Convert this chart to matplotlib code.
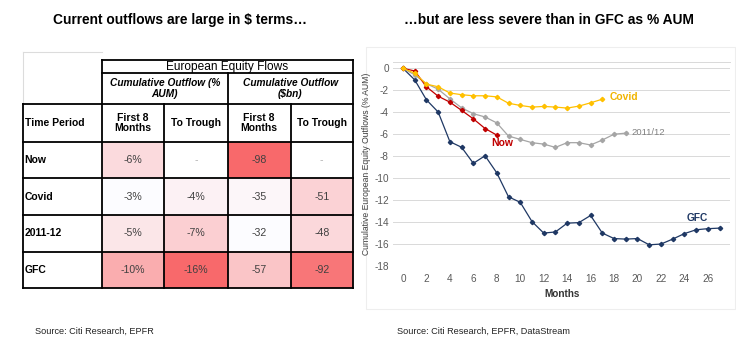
import numpy as np
import matplotlib.pyplot as plt
from matplotlib.patches import Rectangle
from matplotlib.colors import LinearSegmentedColormap

plt.rcParams['font.family'] = ['Liberation Sans', 'DejaVu Sans']
plt.rcParams['axes.unicode_minus'] = False

# ---- table data (European equity flows) ----
periods = ["Now", "Covid", "2011-12", "GFC"]
aum_first8 = [-6, -3, -5, -10]
aum_trough = [None, -4, -7, -16]
bn_first8 = [-98, -35, -32, -57]
bn_trough = [None, -51, -48, -92]

# ---- line chart data (cumulative outflow, % AUM) ----
now = [0, -0.24, -1.68, -2.54, -3.08, -3.83, -4.6, -5.48, -6.08]
covid = [0, -0.45, -1.44, -1.68, -2.25, -2.4, -2.5, -2.5, -2.6, -3.18,
         -3.38, -3.53, -3.47, -3.53, -3.62, -3.44, -3.14, -2.81]
euro = [0, -0.6, -1.4, -1.9, -2.78, -3.6, -4.13, -4.43, -4.97, -6.17,
        -6.47, -6.77, -6.9, -7.2, -6.77, -6.77, -6.98, -6.53, -6.0, -5.9]
gfc = [0, -1.05, -2.87, -3.98, -6.68, -7.19, -8.65, -7.96, -9.52, -11.7,
       -12.2, -13.95, -15.0, -14.9, -14.1, -14.05, -13.4, -15.0, -15.5, -15.55,
       -15.5, -16.07, -16.0, -15.55, -15.05, -14.7, -14.6, -14.55]

fig = plt.figure(figsize=(7.36, 3.48), dpi=100)

# overlay in pixel coordinates for the table and the texts
pa = fig.add_axes([0, 0, 1, 1])
pa.set_xlim(0, 736)
pa.set_ylim(348, 0)
pa.axis('off')

pa.text(180, 20, "Current outflows are large in $ terms\u2026", ha='center', va='center',
        fontsize=9.9, fontweight='bold')
pa.text(549, 20, "\u2026but are less severe than in GFC as % AUM", ha='center', va='center',
        fontsize=9.9, fontweight='bold')
pa.text(35, 331, "Source: Citi Research, EPFR", ha='left', va='center', fontsize=6.6, color='#222222')
pa.text(397, 331, "Source: Citi Research, EPFR, DataStream", ha='left', va='center', fontsize=6.6,
        color='#222222')

# faint box around the right chart
pa.add_patch(Rectangle((366, 47), 369, 262, fill=False, ec='#eeeeee', lw=0.8))

# table
col_x = [22.7, 101.7, 164.3, 227.7, 290.7, 352.7]
row_y = [60, 72.7, 104, 141.7, 178.3, 215, 251.7, 288.3]
cmap = LinearSegmentedColormap.from_list('wr', ['#FCFCFF', '#F8696B'])

def shade(vals_a, vals_b):
    allv = [v for v in vals_a + vals_b if v is not None]
    hi, lo = max(allv), min(allv)
    return lambda v: 'white' if v is None else cmap((hi - v) / (hi - lo))

aum_col = shade(aum_first8, aum_trough)
bn_col = shade(bn_first8, bn_trough)

columns = [(aum_first8, aum_col, '%'), (aum_trough, aum_col, '%'),
           (bn_first8, bn_col, ''), (bn_trough, bn_col, '')]
for r, name in enumerate(periods):
    y0, y1 = row_y[3 + r], row_y[4 + r]
    pa.text(col_x[0] + 2, (y0 + y1) / 2, name, ha='left', va='center', fontsize=7.5, fontweight='bold')
    for c, (vals, colf, suf) in enumerate(columns):
        v = vals[r]
        x0, x1 = col_x[1 + c], col_x[2 + c]
        pa.add_patch(Rectangle((x0, y0), x1 - x0, y1 - y0, fc=colf(v), ec='none'))
        txt = '-' if v is None else f"{v}{suf}"
        pa.text((x0 + x1) / 2, (y0 + y1) / 2, txt, ha='center', va='center', fontsize=7.6,
                color='#b0b0b0' if v is None else '#404040')

# header texts
pa.text((col_x[1] + col_x[5]) / 2, (row_y[0] + row_y[1]) / 2 + 0.5, "European Equity Flows",
        ha='center', va='center', fontsize=8.6)
pa.text((col_x[1] + col_x[3]) / 2, (row_y[1] + row_y[2]) / 2, "Cumulative Outflow (%\nAUM)",
        ha='center', va='center', fontsize=7.3, fontweight='bold', fontstyle='italic', linespacing=1.1)
pa.text((col_x[3] + col_x[5]) / 2, (row_y[1] + row_y[2]) / 2, "Cumulative Outflow\n($bn)",
        ha='center', va='center', fontsize=7.3, fontweight='bold', fontstyle='italic', linespacing=1.1)
pa.text(col_x[0] + 2, (row_y[2] + row_y[3]) / 2, "Time Period", ha='left', va='center',
        fontsize=7.5, fontweight='bold')
for c, lab in enumerate(["First 8\nMonths", "To Trough", "First 8\nMonths", "To Trough"]):
    pa.text((col_x[1 + c] + col_x[2 + c]) / 2, (row_y[2] + row_y[3]) / 2, lab, ha='center',
            va='center', fontsize=7.5, fontweight='bold', linespacing=1.05)

# grid lines
lw = 1.3
pa.plot([col_x[0], col_x[1]], [51.7, 51.7], color='#dcdcdc', lw=0.8)
pa.plot([col_x[0], col_x[0]], [51.7, row_y[2]], color='#dcdcdc', lw=0.8)
pa.plot([col_x[1], col_x[5]], [row_y[0], row_y[0]], color='black', lw=lw)
pa.plot([col_x[1], col_x[5]], [row_y[1], row_y[1]], color='black', lw=lw)
for y in row_y[2:]:
    pa.plot([col_x[0], col_x[5]], [y, y], color='black', lw=lw)
pa.plot([col_x[0], col_x[0]], [row_y[2], row_y[-1]], color='black', lw=lw)
pa.plot([col_x[1], col_x[1]], [row_y[0], row_y[-1]], color='black', lw=lw)
pa.plot([col_x[5], col_x[5]], [row_y[0], row_y[-1]], color='black', lw=lw)
pa.plot([col_x[3], col_x[3]], [row_y[1], row_y[-1]], color='black', lw=lw)
for x in (col_x[2], col_x[4]):
    pa.plot([x, x], [row_y[2], row_y[-1]], color='black', lw=lw)

# ---- line chart ----
ax = fig.add_axes([0.534, 0.2356, 0.458, 0.587])
series = [(gfc, '#1F3864'), (euro, '#A5A5A5'), (now, '#C00000'), (covid, '#FFC000')]
for vals, col in series:
    ax.plot(range(len(vals)), vals, color=col, lw=0.9, marker='D', ms=2.2, mec=col, mfc=col)

ax.text(len(covid) - 1 + 0.6, covid[-1] + 0.2, "Covid", color='#F0B400', fontsize=7.4,
        fontweight='bold', ha='left', va='center')
ax.text(len(euro) - 1 + 0.5, euro[-1] + 0.1, "2011/12", color='#808080', fontsize=6.8,
        ha='left', va='center')
ax.text(len(now) - 1 - 0.5, now[-1] - 0.75, "Now", color='#C00000', fontsize=7.5,
        fontweight='bold', ha='left', va='center')
ax.text(len(gfc) - 1 - 2.8, gfc[-1] + 0.95, "GFC", color='#1F3864', fontsize=7.3,
        fontweight='bold', ha='left', va='center')

ax.set_xlim(-0.85, 27.9)
ax.set_ylim(-18, 0.6)
ax.set_xticks(range(0, 27, 2))
ax.set_yticks(range(-18, 1, 2))
ax.grid(axis='y', color='#d9d9d9', lw=0.7)
ax.set_axisbelow(True)
for s in ('left', 'right', 'bottom'):
    ax.spines[s].set_visible(False)
ax.spines['top'].set_color('#d9d9d9')
ax.spines['top'].set_linewidth(0.7)
ax.tick_params(length=0, labelsize=7.2, labelcolor='#595959')
ax.tick_params(axis='x', pad=6)
ax.tick_params(axis='y', pad=3)
ax.set_xlabel("Months", fontsize=7.2, fontweight='bold', color='#333333', labelpad=3)
ax.set_ylabel("Cumulative European Equity Outflows (% AUM)", fontsize=6.2, color='#404040', labelpad=2)

fig.savefig("out.png", dpi=100)
